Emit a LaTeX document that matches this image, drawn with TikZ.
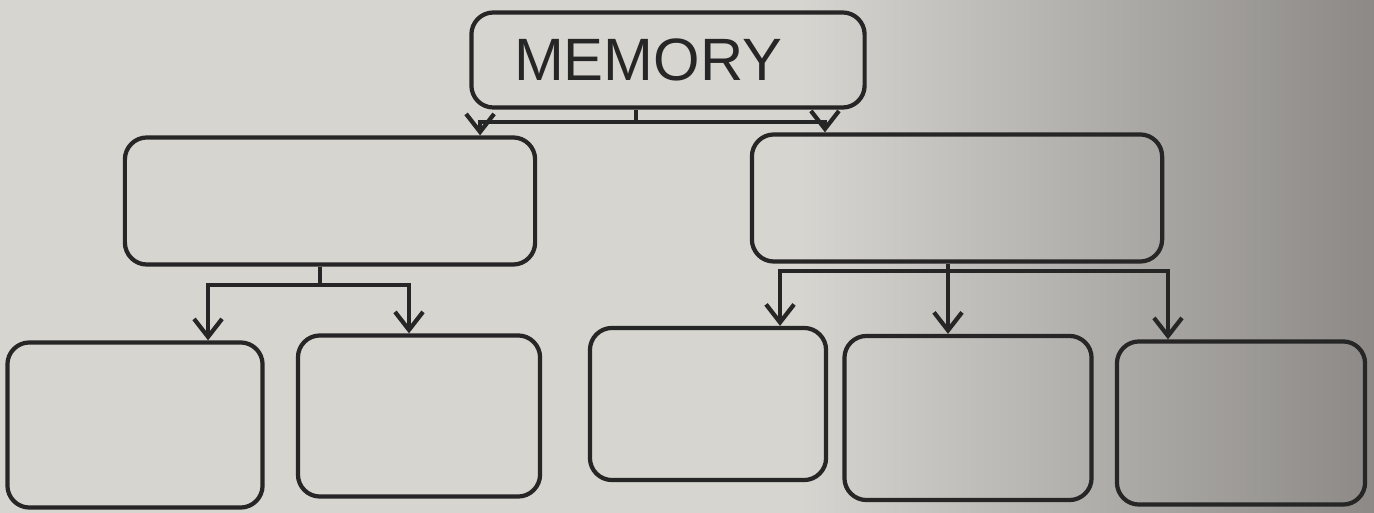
\documentclass[tikz,border=0pt]{standalone}
\usepackage{fontspec}
\setmainfont{Liberation Sans}
\usetikzlibrary{positioning,arrows.meta,calc}
\definecolor{paper}{RGB}{214,213,208}
\definecolor{shadow}{RGB}{140,137,135}
\begin{document}
\begin{tikzpicture}[x=0.01cm, y=-0.01cm, line width=1.2pt,
	box/.style={draw=black!85, rounded corners=0.22cm, inner sep=0pt},
	arr/.style={-{Straight Barb[length=1.8mm, width=2.8mm, line width=1.2pt]}, draw=black!85}]
	% paper
	\fill[paper] (0,0) rectangle (800,513);
	\shade[left color=paper, right color=shadow] (799,0) rectangle (1374,513);
	\useasboundingbox (0,0) rectangle (1374,513);
	% boxes
	\node[box, minimum width=3.93cm, minimum height=0.95cm, font=\fontsize{17}{20}\selectfont, text=black!85] (mem) at (668,60) {MEMORY\kern0.4cm};
	\node[box, minimum width=4.10cm, minimum height=1.27cm] (lm) at (330,201) {};
	\node[box, minimum width=4.10cm, minimum height=1.27cm] (rm) at (957,198) {};
	\node[box, minimum width=2.55cm, minimum height=1.65cm] (b1) at (135,425) {};
	\node[box, minimum width=2.42cm, minimum height=1.61cm] (b2) at (419,416) {};
	\node[box, minimum width=2.36cm, minimum height=1.52cm] (b3) at (708,404) {};
	\node[box, minimum width=2.47cm, minimum height=1.64cm] (b4) at (968,418) {};
	\node[box, minimum width=2.48cm, minimum height=1.63cm] (b5) at (1241,423) {};
	% memory -> middle row
	\coordinate (mj) at ($(mem.south)+(-32,12)$);
	\draw[black!85] (mem.south -| mj) -- (mj);
	\draw[arr] (mj) -| ([xshift=1.5cm]lm.north);
	\draw[arr] (mj) -| ([xshift=-1.32cm]rm.north);
	% left group
	\coordinate (lj) at ($(lm.south)+(-10,18)$);
	\draw[black!85] (lm.south -| lj) -- (lj);
	\draw[arr] (lj) -| ([xshift=0.73cm]b1.north);
	\draw[arr] (lj) -| ([xshift=-0.10cm]b2.north);
	% right group
	\coordinate (rj) at ($(rm.south)+(-9,7)$);
	\draw[black!85] (rm.south -| rj) -- (rj);
	\draw[arr] (rj) -| ([xshift=0.72cm]b3.north);
	\draw[arr] (rj) -- (rj |- b4.north);
	\draw[arr] (rj) -| ([xshift=-0.73cm]b5.north);
\end{tikzpicture}
\end{document}
